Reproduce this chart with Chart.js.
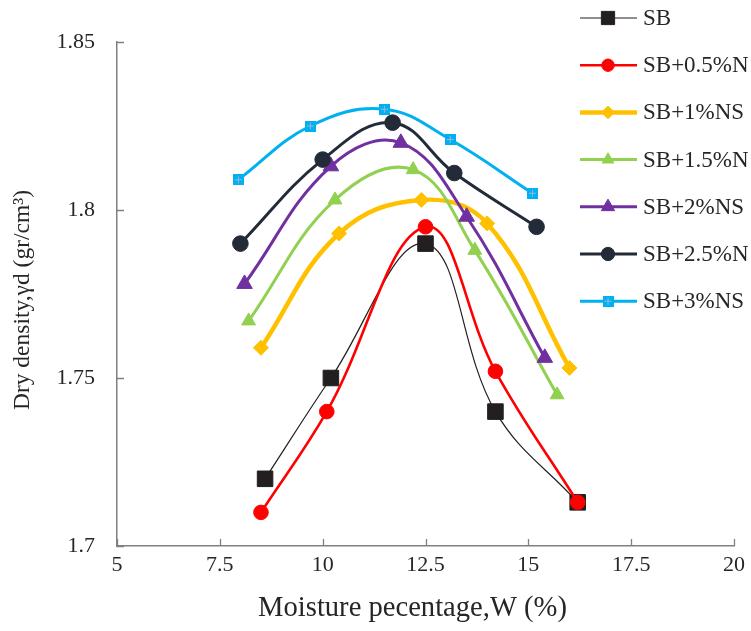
<!DOCTYPE html>
<html>
<head>
<meta charset="utf-8">
<script src="https://cdn.jsdelivr.net/npm/chart.js@4.4.1/dist/chart.umd.min.js"></script>
<style>
    html, body { margin: 0; padding: 0; background: #fff; }
</style>
</head>
<body>
<canvas id="graficoDensidad" width="751" height="631"></canvas>
<script>
// Series (moisture %, dry density)
const seriesNames = ["SB", "SB+0.5%N", "SB+1%NS", "SB+1.5%N", "SB+2%NS", "SB+2.5%N", "SB+3%NS"];
const sbX = [8.6, 10.2, 12.5, 14.2, 16.2];
const sbY = [1.72, 1.75, 1.79, 1.74, 1.713];
const n05X = [8.5, 10.1, 12.5, 14.2, 16.2];
const n05Y = [1.71, 1.74, 1.795, 1.752, 1.713];
const ns1X = [8.5, 10.4, 12.4, 14.0, 16.0];
const ns1Y = [1.759, 1.793, 1.803, 1.796, 1.753];
const n15X = [8.2, 10.3, 12.2, 13.7, 15.7];
const n15Y = [1.767, 1.803, 1.812, 1.788, 1.745];
const ns2X = [8.1, 10.2, 11.9, 13.5, 15.4];
const ns2Y = [1.778, 1.813, 1.82, 1.798, 1.756];
const n25X = [8.0, 10.0, 11.7, 13.2, 15.2];
const n25Y = [1.79, 1.815, 1.826, 1.811, 1.795];
const ns3X = [7.95, 9.7, 11.5, 13.1, 15.1];
const ns3Y = [1.809, 1.825, 1.83, 1.821, 1.805];

const xTicks = [5, 7.5, 10, 12.5, 15, 17.5, 20];
const yTicks = [1.7, 1.75, 1.8, 1.85];

const tituloX = "Moisture pecentage,W (%)";
const tituloY = "Dry density,γd (gr/cm³)";

const FUENTE = "'Liberation Serif', 'Times New Roman', serif";

// marcador cuadrado celeste con cruz
function marcadorCruz(lado, relleno, cruz) {
    const c = document.createElement("canvas");
    c.width = lado; c.height = lado;
    const g = c.getContext("2d");
    g.fillStyle = relleno;
    g.fillRect(0, 0, lado, lado);
    g.strokeStyle = cruz;
    g.lineWidth = 1;
    const m = Math.floor(lado / 2) + 0.5;
    g.beginPath();
    g.moveTo(m, 2); g.lineTo(m, lado - 2);
    g.moveTo(2, m); g.lineTo(lado - 2, m);
    g.stroke();
    return c;
}

function puntos(xs, ys) {
    return xs.map((x, i) => ({ x: x, y: ys[i] }));
}

function serie(i, xs, ys, color, ancho, estilo, radio) {
    return {
        label: seriesNames[i],
        data: puntos(xs, ys),
        borderColor: color,
        backgroundColor: color,
        borderWidth: ancho,
        pointStyle: estilo,
        pointRadius: radio,
        pointHoverRadius: radio,
        pointBackgroundColor: color,
        pointBorderColor: color,
        pointBorderWidth: 1,
        tension: 0.4,
        showLine: true,
        order: 10 - i
    };
}

const datasets = [
    serie(0, sbX, sbY, "#231F20", 1.2, "rect", 11),
    serie(1, n05X, n05Y, "#FF0000", 2.6, "circle", 7.3),
    serie(2, ns1X, ns1Y, "#FFC000", 4.5, "rectRot", 7.5),
    serie(3, n15X, n15Y, "#92D050", 3, "triangle", 8),
    serie(4, ns2X, ns2Y, "#7030A0", 3, "triangle", 9),
    serie(5, n25X, n25Y, "#232B38", 3, "circle", 7.8),
    serie(6, ns3X, ns3Y, "#00B0F0", 3, marcadorCruz(11, "#00B0F0", "#9DB4DA"), 6)
];

// marcas de eje hacia adentro
const marcasInternas = {
    id: "marcasInternas",
    afterDraw(chart) {
        const { ctx, chartArea, scales } = chart;
        ctx.save();
        ctx.strokeStyle = "#808080";
        ctx.lineWidth = 1.3;
        ctx.beginPath();
        scales.x.ticks.forEach(t => {
            const px = Math.round(scales.x.getPixelForValue(t.value)) + 0.5;
            ctx.moveTo(px, chartArea.bottom);
            ctx.lineTo(px, chartArea.bottom - 7);
        });
        scales.y.ticks.forEach(t => {
            const py = Math.round(scales.y.getPixelForValue(t.value)) + 0.5;
            ctx.moveTo(chartArea.left, py);
            ctx.lineTo(chartArea.left + 7, py);
        });
        ctx.stroke();
        ctx.restore();
    }
};

// titulos de los ejes
const titulosEjes = {
    id: "titulosEjes",
    afterDraw(chart) {
        const { ctx, chartArea } = chart;
        ctx.save();
        ctx.fillStyle = "#262626";
        ctx.textAlign = "center";
        ctx.textBaseline = "middle";
        ctx.font = "28.6px " + FUENTE;
        ctx.fillText(tituloX, (chartArea.left + chartArea.right) / 2 - 13, 608);
        ctx.translate(23, (chartArea.top + chartArea.bottom) / 2 + 6);
        ctx.rotate(-Math.PI / 2);
        ctx.font = "23.5px " + FUENTE;
        ctx.fillText(tituloY, 0, 0);
        ctx.restore();
    }
};

// leyenda con linea y marcador
const leyenda = {
    id: "leyenda",
    afterDraw(chart) {
        const ctx = chart.ctx;
        const drawPoint = Chart.helpers && Chart.helpers.drawPoint;
        chart.data.datasets.forEach((ds, i) => {
            const y = 18 + i * 47.2;
            ctx.save();
            ctx.strokeStyle = ds.borderColor;
            ctx.lineWidth = ds.borderWidth;
            ctx.beginPath();
            ctx.moveTo(580, y);
            ctx.lineTo(637, y);
            ctx.stroke();
            ctx.fillStyle = ds.pointBackgroundColor;
            ctx.strokeStyle = ds.pointBorderColor;
            ctx.lineWidth = 1;
            if (drawPoint) {
                drawPoint(ctx, { pointStyle: ds.pointStyle, rotation: 0, borderWidth: 1, radius: ds.pointRadius * 0.85 }, 608, y);
            }
            ctx.fillStyle = "#262626";
            ctx.font = "23px " + FUENTE;
            ctx.textBaseline = "middle";
            ctx.textAlign = "left";
            ctx.fillText(ds.label, 643, y + 1);
            ctx.restore();
        });
    }
};

const fmt = v => String(parseFloat(Number(v).toFixed(3)));

new Chart(document.getElementById("graficoDensidad"), {
    type: "line",
    data: { datasets: datasets },
    options: {
        responsive: false,
        animation: false,
        devicePixelRatio: 1,
        layout: { padding: { top: 42, right: 14, bottom: 0, left: 0 } },
        plugins: {
            legend: { display: false },
            tooltip: { enabled: false }
        },
        scales: {
            x: {
                type: "linear",
                min: 5,
                max: 20,
                afterBuildTicks: s => { s.ticks = xTicks.map(v => ({ value: v })); },
                afterFit: s => { s.height = 85; },
                grid: { display: true, drawOnChartArea: false, drawTicks: false },
                border: { color: "#808080", width: 1.5 },
                ticks: {
                    padding: 6,
                    color: "#262626",
                    font: { family: FUENTE, size: 22 },
                    maxRotation: 0,
                    callback: fmt
                }
            },
            y: {
                min: 1.7,
                max: 1.85,
                afterBuildTicks: s => { s.ticks = yTicks.map(v => ({ value: v })); },
                afterFit: s => { s.width = 117; },
                grid: { display: true, drawOnChartArea: false, drawTicks: false },
                border: { color: "#808080", width: 1.5 },
                ticks: {
                    padding: 22,
                    color: "#262626",
                    font: { family: FUENTE, size: 22 },
                    callback: fmt
                }
            }
        }
    },
    plugins: [marcasInternas, titulosEjes, leyenda]
});
</script>
</body>
</html>
